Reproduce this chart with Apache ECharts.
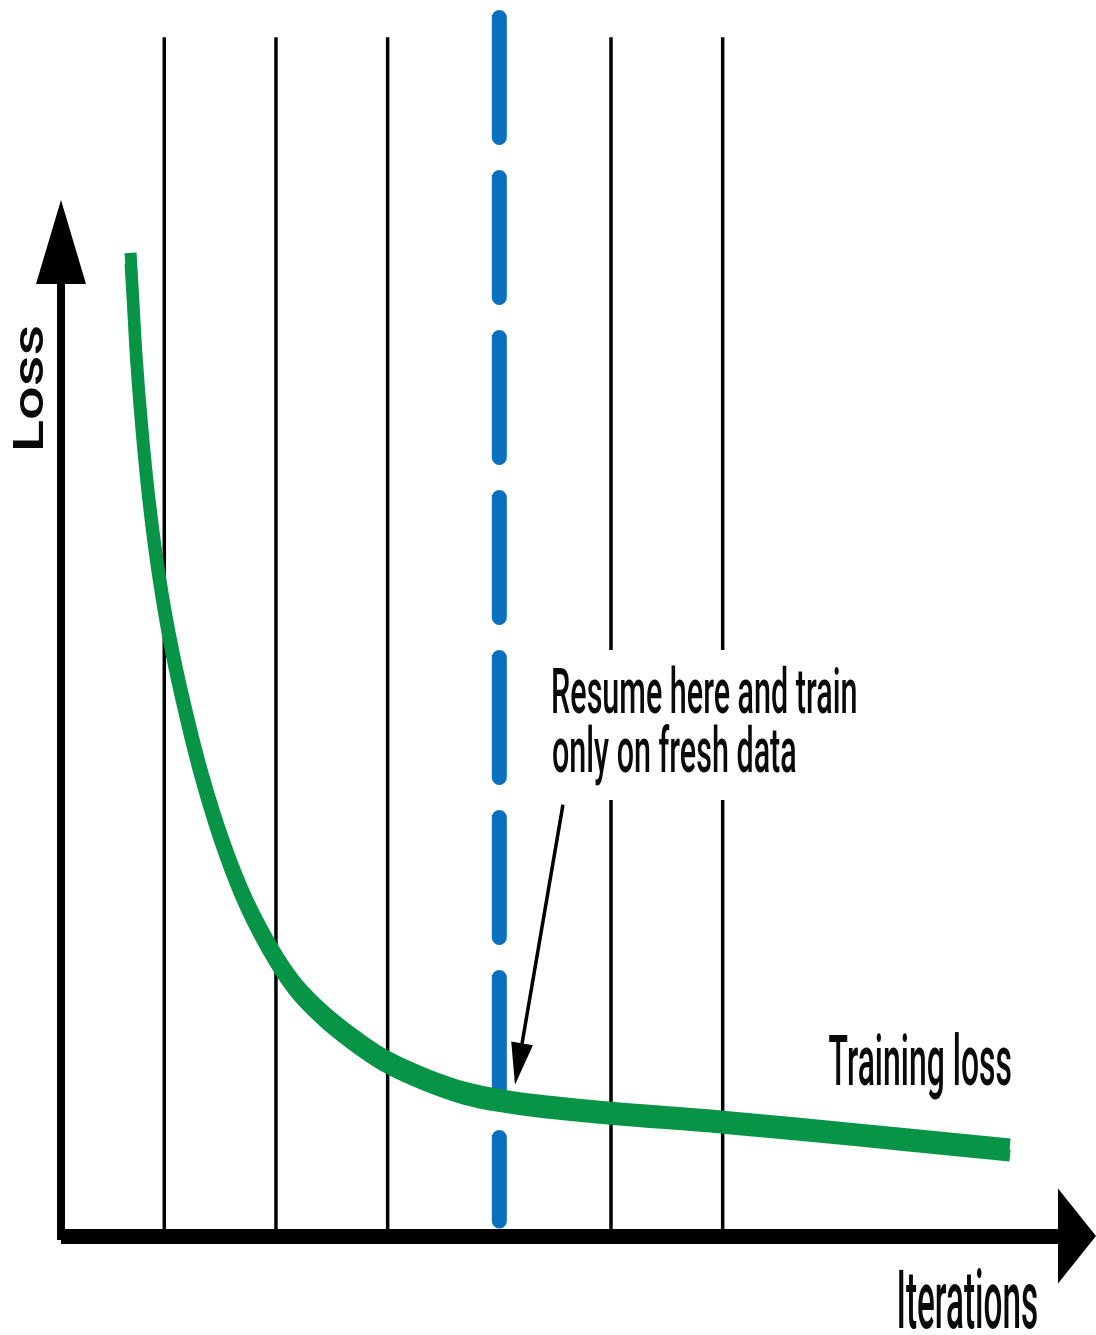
<!DOCTYPE html>
<html>
<head>
<meta charset="utf-8">
<script src="https://cdn.jsdelivr.net/npm/echarts@6/dist/echarts.min.js"></script>
<style>
html, body { margin: 0; padding: 0; background: #ffffff; }
#chart { width: 1096px; height: 1335px; }
</style>
</head>
<body>
<div id="chart"></div>
<script>
// ---------------- data ----------------
// checkpoint positions (iterations, arbitrary units)
const checkpoints = [1, 2, 3, 5, 6];
const resumeCheckpoint = 4;

// training loss curve (iterations, loss)
const lossX = [0.698, 0.720, 0.751, 0.801, 0.863, 0.944, 1.051, 1.186, 1.347, 1.544, 1.741, 1.982, 2.197, 2.466, 2.753, 3.003, 3.335, 3.693, 4.051, 4.454, 5.000, 6.003, 7.230, 8.573];
const lossY = [0.989, 0.947, 0.887, 0.816, 0.746, 0.676, 0.605, 0.535, 0.464, 0.394, 0.339, 0.288, 0.253, 0.223, 0.198, 0.180, 0.163, 0.149, 0.141, 0.135, 0.129, 0.120, 0.107, 0.092];

// annotation arrow (from text to curve), data units
const arrowFrom = [4.570, 0.434];
const arrowTo = [4.172, 0.173];

// texts
const xAxisTitle = 'Iterations';
const yAxisTitle = 'Loss';
const seriesTitle = 'Training loss';
const noteLines = ['Resume here and train', 'only on fresh data'];

// ---------------- chart ----------------
const X_MIN = 0.0752, X_MAX = 9.1727;
const Y_MIN = 0, Y_MAX = 1;
const CHECK_TOP = 1.206;     // checkpoint lines reach above the y axis
const RESUME_TOP = 1.2258, RESUME_BOTTOM = 0.0151;

const GREEN = '#079447';
const BLUE = '#0a6fbf';

const FONT_FAMILY = 'Roboto';
const mctx = document.createElement('canvas').getContext('2d');
function measure(str, font) {
  mctx.font = font;
  mctx.textBaseline = 'middle';
  const m = mctx.measureText(str);
  const h = mctx.measureText('H');
  return { left: m.actualBoundingBoxLeft, ink: m.actualBoundingBoxLeft + m.actualBoundingBoxRight, baseOff: h.actualBoundingBoxDescent };
}
function makeText(str, opt) {
  const font = `${opt.weight} ${opt.size}px ${FONT_FAMILY}`;
  const mm = measure(str, font);
  const s = opt.scale != null ? opt.scale : opt.width / mm.ink;
  const style = { text: str, font: font, fill: '#0a0a0a', textAlign: 'left', textVerticalAlign: 'middle', align: 'left', verticalAlign: 'middle' };
  if (!opt.rotate) {
    return { el: { type: 'text', silent: true, z: 101, x: opt.left + mm.left * s, y: opt.baseline - mm.baseOff, scaleX: s, style: style }, scale: s };
  }
  return { el: { type: 'text', silent: true, z: 101, x: opt.baseline - mm.baseOff, y: opt.start - mm.left * s, rotation: Math.PI / 2, scaleX: s, style: style }, scale: s };
}

const W = '500';
const note1 = makeText(noteLines[0], { weight: W, size: 63, left: 553, baseline: 713, width: 303 });
const note2 = makeText(noteLines[1], { weight: W, size: 63, left: 553, baseline: 772, scale: note1.scale });
const tl = makeText(seriesTitle, { weight: W, size: 70, left: 829, baseline: 1085, width: 182 });
const it = makeText(xAxisTitle, { weight: W, size: 81, left: 899, baseline: 1328, width: 138 });
const ls = makeText(yAxisTitle, { weight: W, size: 42, rotate: true, start: 448, baseline: 43, width: 121 });
// white knock-out behind the note so the checkpoint lines stop around it
const noteBg = { type: 'rect', silent: true, z: 100, shape: { x: 545, y: 650, width: 322, height: 150 }, style: { fill: '#ffffff' } };

const checkpointSeries = checkpoints.map(function (c) {
  return {
    type: 'line', silent: true, clip: false, symbol: 'none', z: 1,
    data: [[c, Y_MIN], [c, CHECK_TOP]],
    lineStyle: { color: '#000000', width: 3.5, cap: 'butt' }
  };
});

const chart = echarts.init(document.getElementById('chart'), null, { renderer: 'canvas' });
chart.setOption({
  animation: false,
  backgroundColor: '#ffffff',
  grid: { left: 61, right: 19, top: 242, bottom: 99, containLabel: false, outerBoundsMode: 'none' },
  xAxis: {
    type: 'value', min: X_MIN, max: X_MAX,
    axisLine: { show: true, onZero: false, symbol: ['none', 'triangle'], symbolSize: [95, 38],
      lineStyle: { color: '#000000', width: 15, cap: 'butt' } },
    axisTick: { show: false }, axisLabel: { show: false }, splitLine: { show: false }
  },
  yAxis: {
    type: 'value', min: Y_MIN, max: Y_MAX,
    axisLine: { show: true, onZero: false, symbol: ['none', 'triangle'], symbolSize: [50, 84],
      lineStyle: { color: '#000000', width: 8, cap: 'square' } },
    axisTick: { show: false }, axisLabel: { show: false }, splitLine: { show: false }
  },
  series: checkpointSeries.concat([
    {
      type: 'line', silent: true, clip: false, symbol: 'none', z: 2,
      data: [[resumeCheckpoint, RESUME_TOP], [resumeCheckpoint, RESUME_BOTTOM]],
      lineStyle: { color: BLUE, width: 15, type: [120, 40], dashOffset: 0, cap: 'round' }
    },
    {
      name: seriesTitle,
      type: 'line', silent: true, clip: false, symbol: 'none', z: 3,
      smooth: 0.4,
      data: lossX.map(function (x, i) { return [x, lossY[i]]; }),
      lineStyle: { color: GREEN, width: 12, cap: 'butt', join: 'round',
        shadowColor: GREEN, shadowBlur: 0, shadowOffsetX: 0, shadowOffsetY: 11 }
    },
    {
      type: 'line', silent: true, symbol: 'none', z: 4, data: [],
      markLine: {
        silent: true, animation: false,
        label: { show: false },
        lineStyle: { color: '#000000', width: 3.5, type: 'solid' },
        data: [[
          { coord: arrowFrom, symbol: 'none' },
          { coord: arrowTo, symbol: 'triangle', symbolSize: [22, 42] }
        ]]
      }
    }
  ]),
  graphic: { elements: [noteBg, note1.el, note2.el, tl.el, it.el, ls.el] }
});
</script>
</body>
</html>
